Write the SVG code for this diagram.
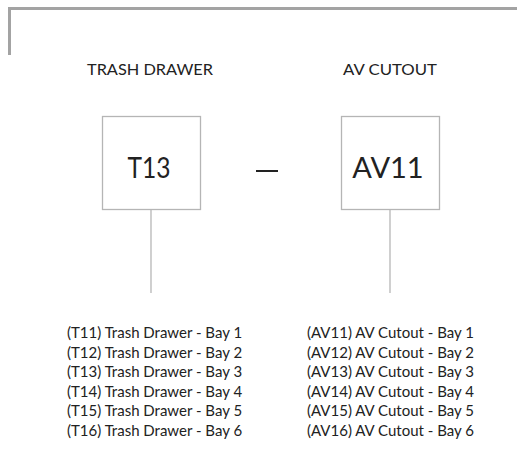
<svg xmlns="http://www.w3.org/2000/svg" width="517" height="468" viewBox="0 0 517 468">
  <style>
    text { font-family: "Lato", "Liberation Sans", sans-serif; fill: #222; }
    .hdr { font-size: 16px; text-anchor: middle; }
    .code { font-size: 29px; text-anchor: middle; }
    .item { font-size: 15px; }
    .box { fill: #fff; stroke: #b5b5b5; stroke-width: 1.3; }
    .conn { stroke: #b0b0b0; stroke-width: 1.2; fill: none; }
  </style>
  <rect width="517" height="468" fill="#fff"/>
  <path d="M9.5 55 V8.5 H517" fill="none" stroke="#a3a3a3" stroke-width="3"/>
  <g id="connectors">
    <line class="conn" x1="151" y1="209" x2="151" y2="293"/>
    <line class="conn" x1="390" y1="209" x2="390" y2="293"/>
    <line x1="256" y1="171" x2="278" y2="171" stroke="#222" stroke-width="2"/>
  </g>
  <g id="trash">
    <text class="hdr" x="150" y="75" textLength="126" lengthAdjust="spacingAndGlyphs">TRASH DRAWER</text>
    <rect class="box" x="102.5" y="116.5" width="98" height="93"/>
    <text class="code" x="149" y="178" textLength="43" lengthAdjust="spacingAndGlyphs">T13</text>
  </g>
  <g id="av">
    <text class="hdr" x="390" y="75" textLength="94" lengthAdjust="spacingAndGlyphs">AV CUTOUT</text>
    <rect class="box" x="341.5" y="116.5" width="98" height="93"/>
    <text class="code" x="388" y="178">AV11</text>
  </g>
  <g id="trash-list">
    <text class="item" x="67" y="338">(T11) Trash Drawer - Bay 1</text>
    <text class="item" x="67" y="357.6">(T12) Trash Drawer - Bay 2</text>
    <text class="item" x="67" y="377.2">(T13) Trash Drawer - Bay 3</text>
    <text class="item" x="67" y="396.8">(T14) Trash Drawer - Bay 4</text>
    <text class="item" x="67" y="416.4">(T15) Trash Drawer - Bay 5</text>
    <text class="item" x="67" y="436">(T16) Trash Drawer - Bay 6</text>
  </g>
  <g id="av-list">
    <text class="item" x="307" y="338">(AV11) AV Cutout - Bay 1</text>
    <text class="item" x="307" y="357.6">(AV12) AV Cutout - Bay 2</text>
    <text class="item" x="307" y="377.2">(AV13) AV Cutout - Bay 3</text>
    <text class="item" x="307" y="396.8">(AV14) AV Cutout - Bay 4</text>
    <text class="item" x="307" y="416.4">(AV15) AV Cutout - Bay 5</text>
    <text class="item" x="307" y="436">(AV16) AV Cutout - Bay 6</text>
  </g>
</svg>
